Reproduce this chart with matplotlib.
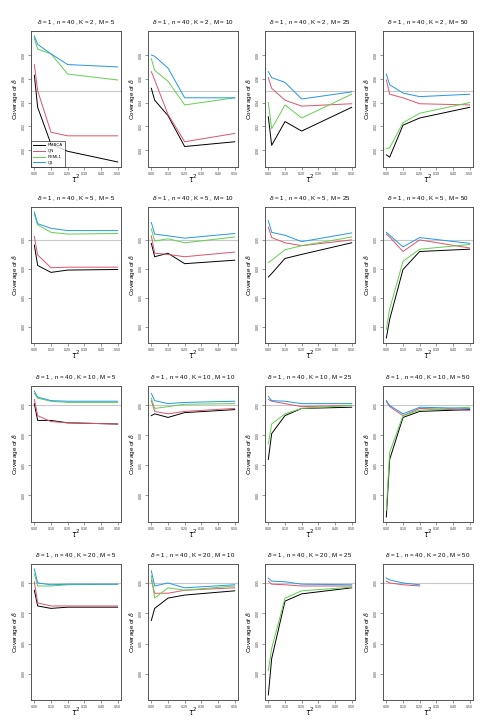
import numpy as np
import matplotlib.pyplot as plt

plt.rcParams['font.family'] = ['Liberation Sans', 'DejaVu Sans']

# tau^2 values
tau2 = [0.0, 0.02, 0.10, 0.20, 0.50]
Ks = [2, 5, 10, 20]
Ms = [5, 10, 25, 50]
nan = np.nan

# coverage, one list per M (5, 10, 25, 50) for each K
rmbca_k2 = [[0.963, 0.936, 0.905, 0.899, 0.890], [0.952, 0.942, 0.929, 0.903, 0.907],
            [0.928, 0.904, 0.924, 0.916, 0.936], [0.896, 0.894, 0.921, 0.927, 0.936]]
qn_k2 = [[0.972, 0.950, 0.915, 0.912, 0.912], [0.966, 0.959, 0.930, 0.907, 0.914],
         [0.961, 0.952, 0.942, 0.937, 0.939], [0.959, 0.947, 0.944, 0.939, 0.938]]
reml_k2 = [[0.994, 0.985, 0.981, 0.964, 0.959], [0.977, 0.967, 0.958, 0.938, 0.944],
           [0.940, 0.918, 0.938, 0.927, 0.947], [0.901, 0.902, 0.923, 0.931, 0.940]]
q1_k2 = [[0.996, 0.989, 0.981, 0.972, 0.970], [0.980, 0.979, 0.969, 0.944, 0.944],
         [0.966, 0.961, 0.957, 0.943, 0.949], [0.964, 0.955, 0.948, 0.945, 0.947]]

rmbca_k5 = [[0.941, 0.906, 0.894, 0.898, 0.899], [0.944, 0.921, 0.927, 0.909, 0.915],
            [0.886, 0.892, 0.918, 0.925, 0.945], [0.781, 0.813, 0.899, 0.930, 0.934]]
qn_k5 = [[0.956, 0.924, 0.902, 0.903, 0.903], [0.957, 0.927, 0.925, 0.921, 0.929],
         [0.972, 0.954, 0.945, 0.940, 0.950], [0.960, 0.955, 0.930, 0.950, 0.936]]
reml_k5 = [[0.994, 0.976, 0.963, 0.960, 0.961], [0.969, 0.948, 0.952, 0.945, 0.955],
           [0.911, 0.915, 0.933, 0.940, 0.955], [0.796, 0.831, 0.913, 0.934, 0.942]]
q1_k5 = [[0.998, 0.978, 0.970, 0.966, 0.966], [0.980, 0.960, 0.957, 0.953, 0.961],
         [0.983, 0.963, 0.958, 0.947, 0.962], [0.963, 0.958, 0.938, 0.954, 0.944]]

rmbca_k10 = [[0.953, 0.925, 0.925, 0.921, 0.919], [0.933, 0.936, 0.930, 0.938, 0.943],
             [0.860, 0.903, 0.933, 0.945, 0.947], [0.764, 0.860, 0.930, 0.940, 0.943]]
qn_k10 = [[0.960, 0.933, 0.923, 0.921, 0.919], [0.958, 0.940, 0.936, 0.940, 0.945],
          [0.960, 0.957, 0.953, 0.948, 0.950], [0.957, 0.948, 0.933, 0.945, 0.942]]
reml_k10 = [[0.970, 0.962, 0.957, 0.955, 0.955], [0.962, 0.945, 0.948, 0.952, 0.953],
            [0.886, 0.919, 0.936, 0.945, 0.950], [0.775, 0.872, 0.933, 0.942, 0.947]]
q1_k10 = [[0.974, 0.964, 0.958, 0.957, 0.957], [0.970, 0.958, 0.953, 0.955, 0.957],
          [0.965, 0.958, 0.957, 0.953, 0.953], [0.958, 0.950, 0.936, 0.947, 0.945]]

rmbca_k20 = [[0.938, 0.912, 0.908, 0.910, 0.910], [0.888, 0.908, 0.925, 0.930, 0.937],
             [0.765, 0.825, 0.920, 0.932, 0.942], [nan, nan, nan, nan, nan]]
qn_k20 = [[0.952, 0.917, 0.912, 0.912, 0.912], [0.955, 0.933, 0.933, 0.938, 0.942],
          [0.953, 0.948, 0.947, 0.945, 0.945], [0.953, 0.950, 0.947, 0.945, nan]]
reml_k20 = [[0.965, 0.945, 0.945, 0.947, 0.948], [0.962, 0.925, 0.942, 0.938, 0.945],
            [0.805, 0.842, 0.925, 0.937, 0.943], [nan, nan, nan, nan, nan]]
q1_k20 = [[0.973, 0.950, 0.947, 0.948, 0.948], [0.970, 0.945, 0.950, 0.942, 0.947],
          [0.958, 0.953, 0.952, 0.948, 0.947], [0.958, 0.955, 0.950, 0.947, nan]]

methods = ["RMBCA", "QN", "REML1", "Q1"]
colors = ["#000000", "#DF536B", "#61D04F", "#2297E6"]
data = {2: [rmbca_k2, qn_k2, reml_k2, q1_k2],
        5: [rmbca_k5, qn_k5, reml_k5, q1_k5],
        10: [rmbca_k10, qn_k10, reml_k10, q1_k10],
        20: [rmbca_k20, qn_k20, reml_k20, q1_k20]}
yticks = {2: [0.90, 0.92, 0.94, 0.96, 0.98], 5: [0.80, 0.85, 0.90, 0.95],
          10: [0.80, 0.85, 0.90, 0.95], 20: [0.80, 0.85, 0.90, 0.95]}

W, H = 495, 726
fig = plt.figure(figsize=(W / 100, H / 100), dpi=100, facecolor='white')
lefts = [31, 148, 265, 383]
tops = [31, 207, 386, 564]
bw, bh = 90, 136

for i, K in enumerate(Ks):
    allv = np.array(data[K], dtype=float)
    lo, hi = np.nanmin(allv), np.nanmax(allv)
    pad = 0.04 * (hi - lo)
    for j, M in enumerate(Ms):
        ax = fig.add_axes([lefts[j] / W, 1 - (tops[i] + bh) / H, bw / W, bh / H])
        ax.axhline(0.95, color='#c8c8c8', lw=0.8)
        for m in range(4):
            ax.plot(tau2, data[K][m][j], color=colors[m], lw=0.7, label=methods[m])
        ax.set_xlim(-0.02, 0.52)
        ax.set_ylim(lo - pad, hi + pad)
        ax.set_xticks([0.0, 0.1, 0.2, 0.3, 0.4, 0.5])
        ax.set_xticklabels(["0.00", "0.10", "0.20", "0.30", "0.40", "0.50"])
        ax.set_yticks(yticks[K])
        ax.set_yticklabels(["%.2f" % v for v in yticks[K]], rotation=90, va='center')
        ax.tick_params(labelsize=2.6, length=2, width=0.4, pad=1.5, colors='#444444')
        for s in ax.spines.values():
            s.set_color('#555555')
            s.set_linewidth(0.7)
        ax.set_title(r"$\delta$ = 1 , n = 40 , K = %d , M = %d" % (K, M), fontsize=4.4, pad=5)
        ax.set_ylabel(r"Coverage of $\hat{\delta}$", fontsize=4.6, labelpad=1)
        ax.set_xlabel(r"$\tau^2$", fontsize=5.5, labelpad=-2)
        if i == 0 and j == 0:
            ax.legend(loc='lower left', fontsize=3.0, frameon=True, fancybox=False,
                      edgecolor='black', borderaxespad=0, handlelength=2.8,
                      borderpad=0.5, labelspacing=0.45).get_frame().set_linewidth(0.5)

fig.savefig('out.png', dpi=100)
